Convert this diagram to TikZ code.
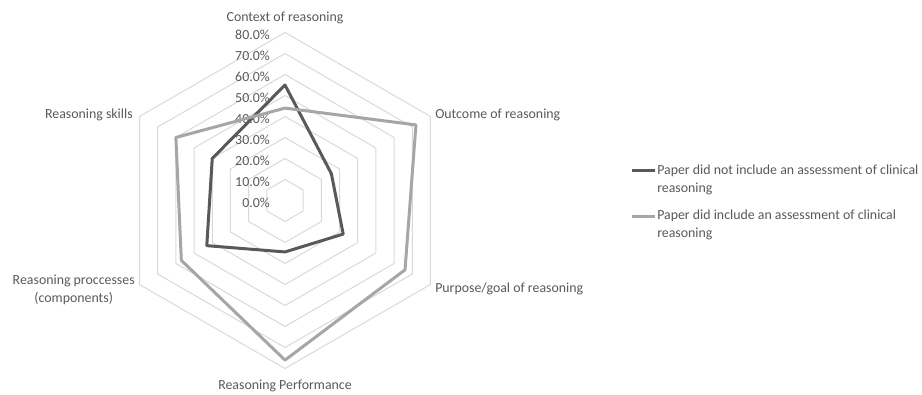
\documentclass[tikz,border=0pt]{standalone}
\usepackage{fontspec}
\setmainfont{Carlito}
\definecolor{ringgray}{HTML}{D9D9D9}
\definecolor{txtgray}{HTML}{595959}
\definecolor{darkser}{HTML}{595959}
\definecolor{lightser}{HTML}{A6A6A6}
\begin{document}
\begin{tikzpicture}[x=0.75pt,y=0.75pt,font=\fontsize{10.4}{13.5}\selectfont,
  ring/.style={draw=ringgray,line width=0.75pt},
  darkline/.style={draw=darkser,line width=2.25pt,line join=round},
  lightline/.style={draw=lightser,line width=2.25pt,line join=round},
  pct/.style={anchor=east,text=txtgray,inner sep=0pt},
  cat/.style={text=txtgray,inner sep=0pt,align=center},
  legtext/.style={anchor=west,text=txtgray,inner sep=0pt,align=left}]
\useasboundingbox (-285,-194.5) rectangle (637,200.5);
\foreach \k in {1,...,8}
  \path[ring] (90:21*\k) -- (30:21*\k) -- (-30:21*\k) -- (-90:21*\k) -- (210:21*\k) -- (150:21*\k) -- cycle;
\foreach \k/\v in {0/0.0,1/10.0,2/20.0,3/30.0,4/40.0,5/50.0,6/60.0,7/70.0,8/80.0}
  \node[pct] (p\k) at (-15,21*\k-2) {\v\%};

\node[cat] (ctx) at (0,182.5) {Context of reasoning};
\node[cat,anchor=west] (out) at (150,85.5) {Outcome of reasoning};
\node[cat,anchor=west] (pur) at (150,-88.5) {Purpose/goal of reasoning};
\node[cat] (perf) at (0,-185.5) {Reasoning Performance};
\node[cat,anchor=east] (proc) at (-150,-89.5) {Reasoning proccesses\\(components)};
\node[cat,anchor=east] (skl) at (-152,85.5) {Reasoning skills};

\path[darkline] (90:55*2.1) -- (30:25.5*2.1) -- (-30:32*2.1) -- (-90:24.5*2.1) -- (210:43*2.1) -- (150:40*2.1) -- cycle;
\path[lightline] (90:44*2.1) -- (30:72*2.1) -- (-30:66*2.1) -- (-90:76*2.1) -- (210:57*2.1) -- (150:60*2.1) -- cycle;

\coordinate (ka1) at (347,29.8);
\coordinate (ka2) at (370,29.8);
\coordinate (kb1) at (347,-16.2);
\coordinate (kb2) at (370,-16.2);
\path[darkline,line cap=butt] (ka1) -- (ka2);
\path[lightline,line cap=butt] (kb1) -- (kb2);
\node[legtext] (lega) at (372,20.5) {Paper did not include an assessment of clinical\\reasoning};
\node[legtext] (legb) at (372,-24) {Paper did include an assessment of clinical\\reasoning};
\end{tikzpicture}
\end{document}
